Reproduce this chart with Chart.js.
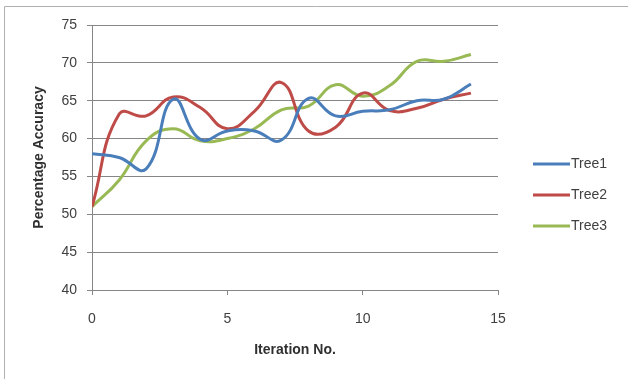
<!DOCTYPE html>
<html>
<head>
<meta charset="utf-8">
<script src="https://cdn.jsdelivr.net/npm/chart.js@4/dist/chart.umd.min.js"></script>
<style>
html,body{margin:0;padding:0;background:#fff;}
#wrap{width:628px;height:379px;position:relative;}
</style>
</head>
<body>
<div id="wrap"><canvas id="c" width="628" height="379"></canvas></div>
<script>
const iterations = [0,1,2,3,4,5,6,7,8,9,10,11,12,13,14];
const tree1 = [58,57.5,56,65.2,59.9,61,61,59.8,65.3,63,63.6,63.8,65,65.2,67.2];
const tree2 = [51,63.2,63,65.5,64.1,61.3,63.6,67.4,61,61.5,66,63.7,64,65.2,66];
const tree3 = [51,54.5,59.7,61.3,59.7,60,61.3,63.8,64.3,67.1,65.6,67,70.2,70.2,71.1];
const seriesNames = ['Tree1','Tree2','Tree3'];
const seriesColors = ['#4A7EBB','#BE4B48','#98B954'];
const xTicks = [0,5,10,15];
const yTicks = [40,45,50,55,60,65,70,75];

const allSeries = [tree1, tree2, tree3];
const datasets = allSeries.map((vals, i) => ({
  label: seriesNames[i],
  data: iterations.map((x, j) => ({x: x, y: vals[j]})),
  borderColor: seriesColors[i],
  backgroundColor: seriesColors[i],
  borderWidth: 3,
  pointRadius: 0,
  tension: 0.45,
  fill: false
}));

const FONT = "'Liberation Sans', Arial, sans-serif";

const framePlugin = {
  id: 'frame',
  beforeDraw(chart) {
    const ctx = chart.ctx;
    ctx.save();
    ctx.fillStyle = '#fff';
    ctx.fillRect(0, 0, chart.width, chart.height);
    ctx.strokeStyle = '#b0b0b0';
    ctx.lineWidth = 1;
    ctx.beginPath();
    ctx.moveTo(4.5, chart.height);
    ctx.lineTo(4.5, 6.5);
    ctx.lineTo(chart.width, 6.5);
    ctx.stroke();
    ctx.restore();
  },
  afterDraw(chart) {
    const ctx = chart.ctx;
    ctx.save();
    ctx.font = '14px ' + FONT;
    ctx.textBaseline = 'middle';
    ctx.textAlign = 'left';
    const ys = [164, 195, 226];
    chart.data.datasets.forEach((ds, i) => {
      const y = ys[i];
      ctx.strokeStyle = ds.borderColor;
      ctx.lineWidth = 3;
      ctx.beginPath();
      ctx.moveTo(533, y);
      ctx.lineTo(570, y);
      ctx.stroke();
      ctx.fillStyle = '#404040';
      ctx.fillText(ds.label, 571, y);
    });
    ctx.restore();
  }
};

new Chart(document.getElementById('c'), {
  type: 'line',
  data: { datasets: datasets },
  options: {
    responsive: false,
    animation: false,
    devicePixelRatio: 1,
    layout: { padding: { left: 10, top: 25, right: 130, bottom: 10 } },
    plugins: { legend: { display: false }, tooltip: { enabled: false } },
    scales: {
      x: {
        type: 'linear',
        min: 0, max: 15,
        afterFit(scale) { scale.height = 79; },
        afterBuildTicks(scale) { scale.ticks = xTicks.map(v => ({value: v})); },
        ticks: { color: '#404040', font: { size: 14, family: FONT }, padding: 16, maxRotation: 0 },
        grid: { drawOnChartArea: false, drawTicks: true, tickLength: 5, color: '#868686' },
        border: { color: '#868686' },
        title: { display: true, text: 'Iteration No.', color: '#303030', font: { size: 14, weight: 'bold', family: FONT }, padding: { top: 0, bottom: 10 } }
      },
      y: {
        min: 40, max: 75,
        afterFit(scale) { scale.width = 82; },
        afterBuildTicks(scale) { scale.ticks = yTicks.map(v => ({value: v})); },
        ticks: { color: '#404040', font: { size: 14, family: FONT }, padding: 10 },
        grid: { color: '#868686', tickLength: 5 },
        border: { color: '#868686' },
        title: { display: true, text: 'Percentage Accuracy', color: '#303030', font: { size: 14, weight: 'bold', family: FONT }, padding: { top: 21, bottom: 0 } }
      }
    }
  },
  plugins: [framePlugin]
});
</script>
</body>
</html>
